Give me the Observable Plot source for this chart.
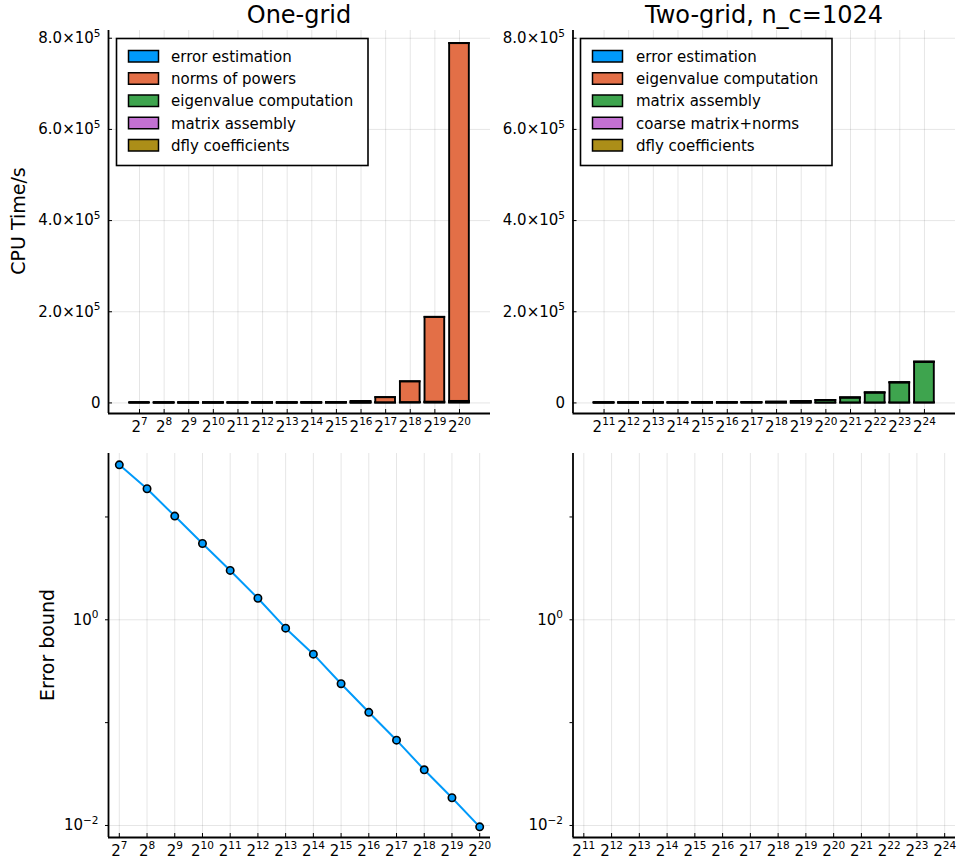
<!DOCTYPE html>
<html><head><meta charset="utf-8">
<script src="https://cdn.jsdelivr.net/npm/d3@7"></script>
<script src="https://cdn.jsdelivr.net/npm/@observablehq/plot@0.6"></script>
<style>
body{margin:0;background:#fff;font-family:"DejaVu Sans",sans-serif}
#root{position:relative;width:958px;height:863px;overflow:hidden;background:#fff}
.panel{position:absolute}
#overlay{position:absolute;left:0;top:0;pointer-events:none}
</style></head>
<body><div id="root"></div>
<script>
// ---------- data ----------
const oneGridExps = [7,8,9,10,11,12,13,14,15,16,17,18,19,20];
const twoGridExps = [11,12,13,14,15,16,17,18,19,20,21,22,23,24];

const oneGridComponents = ["error estimation","norms of powers","eigenvalue computation","matrix assembly","dfly coefficients"];
const twoGridComponents = ["error estimation","eigenvalue computation","matrix assembly","coarse matrix+norms","dfly coefficients"];
const palette = ["#009AFA","#E36F47","#3EA44E","#C371D2","#AC8E18"];

// One-grid CPU times (s), per exponent 2^7..2^20
const oneErrEst   = [0.02,0.04,0.08,0.2,0.4,0.8,1.6,3.2,6.5,13,26,52,105,210];
const oneNorms    = [0.01,0.05,0.18,0.7,2.8,11,44,175,700,2800,11200,45500,186000,785000];
const oneEigen    = [0.05,0.1,0.2,0.4,0.8,1.6,3.2,6.5,13,26,52,105,210,420];
const oneMatrix   = [0.35,0.7,1.4,2.7,5.5,11,22,44,88,175,350,700,1400,2800];
const oneDfly     = [0.01,0.02,0.04,0.08,0.16,0.3,0.6,1.2,2.5,5,10,20,40,80];

// Two-grid CPU times (s), per exponent 2^11..2^24
const twoErrEst   = [0.05,0.1,0.2,0.4,0.8,1.6,3.2,6.4,13,26,51,100,200,400];
const twoEigen    = [5,5,5,5,5,5,5,5,5,5,5,5,5,5];
const twoMatrix   = [11,22,44,88,175,350,700,1400,2700,5300,10800,21800,44000,89000];
const twoCoarse   = [20,20,20,20,20,20,20,20,20,20,20,20,20,20];
const twoDfly     = [0.02,0.04,0.08,0.16,0.3,0.6,1.2,2.5,5,10,20,40,80,160];

// One-grid error bound per exponent 2^7..2^20
const oneErrorBound = [32.1,18.8,10.2,5.52,3.02,1.62,0.829,0.463,0.239,0.126,0.0675,0.0348,0.0186,0.0097];

const timeTicks = [0,200000,400000,600000,800000];
const logTicks = [10,1,0.1,0.01];
const logLabeled = [1,0.01];

// ---------- helpers ----------
const ns = "http://www.w3.org/2000/svg";
const FONT = "DejaVu Sans";
const fmtPow2 = k => `2^${k}`;
const fmtTime = v => {
  if (v === 0) return "0";
  const e = Math.floor(Math.log10(v));
  return `${(v / 10 ** e).toFixed(1)}×10^${e}`;
};
const fmtLog = v => logLabeled.includes(v) ? `10^${String(Math.round(Math.log10(v))).replace("-", "−")}` : "";

function supify(svg) {
  svg.querySelectorAll("text").forEach(t => {
    const s = t.textContent;
    const i = s.indexOf("^");
    if (i < 0) return;
    t.textContent = "";
    const a = document.createElementNS(ns, "tspan");
    a.textContent = s.slice(0, i);
    const b = document.createElementNS(ns, "tspan");
    b.textContent = s.slice(i + 1);
    b.setAttribute("dy", "-6.5");
    b.setAttribute("font-size", "10.5");
    t.append(a, b);
  });
}

const root = document.getElementById("root");
function place(svg, left, top) {
  const d = document.createElement("div");
  d.className = "panel";
  d.style.left = left + "px";
  d.style.top = top + "px";
  d.appendChild(svg);
  supify(svg);
  root.appendChild(d);
}

const gridStyle = {stroke: "#000", strokeOpacity: 0.1, strokeWidth: 1};

function barPanel({exps, comps, series, width, marginLeft, marginRight}) {
  const rows = [];
  exps.forEach((k, i) => {
    let acc = 0;
    for (let j = comps.length - 1; j >= 0; j--) {
      const v = series[j][i];
      rows.push({k, comp: comps[j], y1: acc, y2: acc + v});
      acc += v;
    }
  });
  const height = 440, marginTop = 30, marginBottom = 27;
  const frameW = width - marginLeft - marginRight, frameH = height - marginTop - marginBottom;
  const xDomain = [exps[0] - 1.26, exps[exps.length - 1] + 1.26];
  const yDomain = [-23200, 817000];
  return Plot.plot({
    width, height, marginLeft, marginRight, marginTop, marginBottom,
    style: {fontFamily: FONT, fontSize: "15px", background: "transparent", color: "#000", overflow: "visible"},
    x: {domain: xDomain, axis: null},
    y: {domain: yDomain, axis: null},
    color: {domain: comps, range: palette},
    marks: [
      Plot.gridX(exps, gridStyle),
      Plot.gridY(timeTicks, gridStyle),
      Plot.rect(rows, {x1: d => d.k - 0.4, x2: d => d.k + 0.4, y1: "y1", y2: "y2", fill: "comp", stroke: "#000", strokeWidth: 1.9}),
      Plot.ruleX([xDomain[0]], {stroke: "#000", strokeWidth: 1.8}),
      Plot.ruleY([yDomain[0]], {stroke: "#000", strokeWidth: 1.8}),
      Plot.ruleX(exps, {insetTop: frameH - 4, stroke: "#000", strokeWidth: 1}),
      Plot.ruleY(timeTicks, {insetRight: frameW - 4, stroke: "#000", strokeWidth: 1}),
      Plot.axisX(exps, {tickSize: 0, tickPadding: 7.5, tickFormat: fmtPow2, fontSize: 15}),
      Plot.axisY(timeTicks, {tickSize: 0, tickPadding: 8, tickFormat: fmtTime, fontSize: 15})
    ]
  });
}

function logPanel({exps, values, width, marginLeft, marginRight}) {
  const height = 423, marginTop = 13, marginBottom = 26;
  const frameH = height - marginTop - marginBottom;
  const xDomain = [exps[0] - 0.39, exps[exps.length - 1] + 0.39];
  const yDomain = [0.00764, 41.4];
  const marks = [
    Plot.gridX(exps, gridStyle),
    Plot.gridY(logLabeled, gridStyle)
  ];
  if (values) {
    marks.push(
      Plot.line(values, {x: (d, i) => exps[i], y: d => d, stroke: "#009AFA", strokeWidth: 2}),
      Plot.dot(values, {x: (d, i) => exps[i], y: d => d, r: 3.7, fill: "#009AFA", stroke: "#000", strokeWidth: 1.6})
    );
  }
  marks.push(
    Plot.ruleX([xDomain[0]], {stroke: "#000", strokeWidth: 1.8}),
    Plot.ruleY([yDomain[0]], {stroke: "#000", strokeWidth: 1.8}),
    Plot.ruleX(exps, {insetTop: frameH - 4, stroke: "#000", strokeWidth: 1}),
    Plot.axisY(logTicks, {tickSize: 3, tickPadding: 7, tickFormat: fmtLog, fontSize: 15}),
    Plot.axisX(exps, {tickSize: 0, tickPadding: 7.5, tickFormat: fmtPow2, fontSize: 15})
  );
  return Plot.plot({
    width, height, marginLeft, marginRight, marginTop, marginBottom,
    style: {fontFamily: FONT, fontSize: "15px", background: "transparent", color: "#000", overflow: "visible"},
    x: {domain: xDomain, axis: null},
    y: {type: "log", domain: yDomain, axis: null},
    marks
  });
}

place(barPanel({exps: oneGridExps, comps: oneGridComponents,
  series: [oneErrEst, oneNorms, oneEigen, oneMatrix, oneDfly],
  width: 495, marginLeft: 108, marginRight: 5}), 0, 0);
place(barPanel({exps: twoGridExps, comps: twoGridComponents,
  series: [twoErrEst, twoEigen, twoMatrix, twoCoarse, twoDfly],
  width: 479, marginLeft: 93.5, marginRight: 3}), 479, 0);
place(logPanel({exps: oneGridExps, values: oneErrorBound, width: 495, marginLeft: 108, marginRight: 5}), 0, 440);
place(logPanel({exps: twoGridExps, values: null, width: 479, marginLeft: 93.5, marginRight: 3}), 479, 440);

// ---------- overlay: titles, axis labels, legends ----------
const ov = d3.select(root).append("svg").attr("id", "overlay")
  .attr("width", 958).attr("height", 863)
  .style("font-family", FONT);

ov.append("text").attr("x", 299).attr("y", 23).attr("text-anchor", "middle")
  .attr("font-size", 24).text("One-grid");
ov.append("text").attr("x", 764).attr("y", 23).attr("text-anchor", "middle")
  .attr("font-size", 24).text("Two-grid, n_c=1024");

ov.append("text").attr("transform", "translate(25,221) rotate(-90)")
  .attr("text-anchor", "middle").attr("font-size", 19).text("CPU Time/s");
ov.append("text").attr("transform", "translate(54,645) rotate(-90)")
  .attr("text-anchor", "middle").attr("font-size", 19).text("Error bound");

function legend(x, y, w, h, comps, swX, txX) {
  const g = ov.append("g");
  g.append("rect").attr("x", x).attr("y", y).attr("width", w).attr("height", h)
    .attr("fill", "#fff").attr("stroke", "#000").attr("stroke-width", 1.6);
  comps.forEach((c, i) => {
    const cy = y + 18 + i * 22.25;
    g.append("rect").attr("x", swX).attr("y", cy - 6).attr("width", 30).attr("height", 11.5)
      .attr("fill", palette[i]).attr("stroke", "#000").attr("stroke-width", 1.5);
    g.append("text").attr("x", txX).attr("y", cy).attr("dy", "0.35em")
      .attr("font-size", 15).text(c);
  });
}
legend(116.5, 38.5, 251.5, 127, oneGridComponents, 128.5, 171);
legend(580.5, 38.5, 251.5, 127, twoGridComponents, 592.5, 636);
</script>
</body></html>
